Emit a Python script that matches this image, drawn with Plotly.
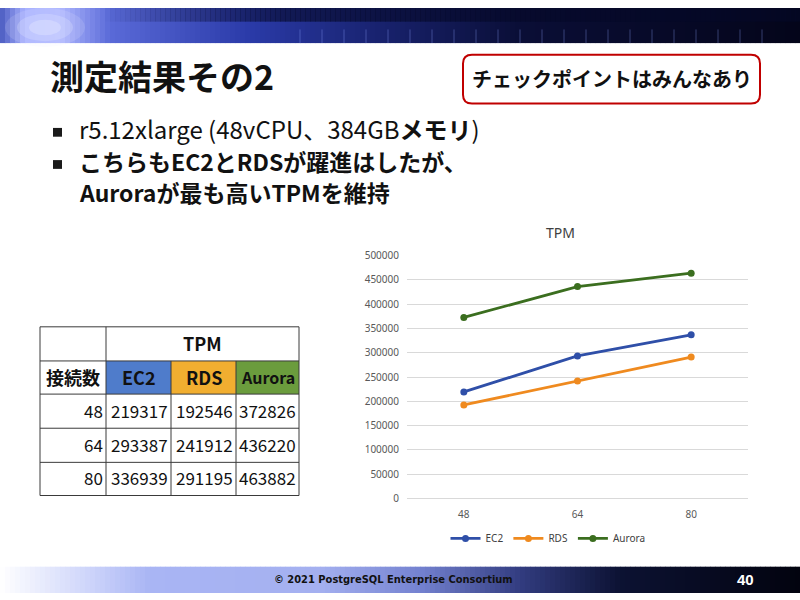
import plotly.graph_objects as go

# ---- data ----
connections = ["48", "64", "80"]
ec2 = [219317, 293387, 336939]
rds = [192546, 241912, 291195]
aurora = [372826, 436220, 463882]
series_names = ["EC2", "RDS", "Aurora"]
y_ticks = [0, 50000, 100000, 150000, 200000, 250000, 300000, 350000, 400000, 450000, 500000]

title_text = "測定結果その2"
callout_text = "チェックポイントはみんなあり"
bullet_lines = ["r5.12xlarge (48vCPU、384GB<b>メモリ</b>)",
                "<b>こちらもEC2とRDSが躍進はしたが、</b>",
                "<b>Auroraが最も高いTPMを維持</b>"]
footer_text = "© 2021 PostgreSQL Enterprise Consortium"
page_no = "40"

W, H = 800, 600
def X(px): return px / W
def Y(py): return 1 - py / H

def hex2rgb(h):
    h = h.lstrip("#")
    return tuple(int(h[i:i+2], 16) for i in (0, 2, 4))

def interp(stops, x):
    for (x0, c0), (x1, c1) in zip(stops, stops[1:]):
        if x0 <= x <= x1:
            t = 0 if x1 == x0 else (x - x0) / (x1 - x0)
            a, b = hex2rgb(c0), hex2rgb(c1)
            return "rgb(%d,%d,%d)" % tuple(round(a[i] + (b[i] - a[i]) * t) for i in range(3))
    return stops[-1][1]

CJK = "Noto Sans CJK JP"
fig = go.Figure()
colors = ["#2f4fa8", "#ef8a1f", "#3b6e1f"]
for name, vals, c in zip(series_names, [ec2, rds, aurora], colors):
    fig.add_trace(go.Scatter(x=connections, y=vals, name=name, mode="lines+markers",
                             line=dict(color=c, width=2.8), marker=dict(color=c, size=7)))

shapes = []
ann = []

def A(text, px, py, xa="center", ya="middle", **font):
    ann.append(dict(text=text, x=X(px), y=Y(py), xref="paper", yref="paper", xanchor=xa,
                    yanchor=ya, showarrow=False, font=font))

# header gradient
hstops = [(0, "#4a5ac0"), (25, "#a8b2ff"), (60, "#b0b8ff"), (110, "#5a6ad8"), (250, "#2a3aa8"),
          (380, "#18226e"), (520, "#0a0e36"), (800, "#04051a")]
step = 5
for i in range(0, 800, step):
    shapes.append(dict(type="rect", xref="paper", yref="paper", x0=X(i), x1=X(i + step + 0.5),
                       y0=Y(36), y1=Y(0), fillcolor=interp(hstops, i + step / 2), line=dict(width=0),
                       layer="below"))
for i in range(100, 800, step):
    shapes.append(dict(type="rect", xref="paper", yref="paper", x0=X(i), x1=X(i + step + 0.5),
                       y0=Y(14), y1=Y(0), fillcolor="#050828", opacity=min(0.6, (i - 100) / 300),
                       line=dict(width=0), layer="below"))
for rr, op in [(40, 0.15), (28, 0.25), (16, 0.35)]:
    shapes.append(dict(type="circle", xref="paper", yref="paper", x0=X(45 - rr), x1=X(45 + rr),
                       y0=Y(20 + rr * 0.5), y1=Y(20 - rr * 0.5), fillcolor="#e8ecff", opacity=op,
                       line=dict(width=0), layer="below"))
for xs in range(300, 770, 22):
    shapes.append(dict(type="line", xref="paper", yref="paper", x0=X(xs), x1=X(xs), y0=Y(36),
                       y1=Y(22), line=dict(color="#8fa4ff", width=1), opacity=0.35, layer="below"))

# footer gradient
fstops = [(0, "#ffffff"), (90, "#cdd4fa"), (150, "#a9b5f4"), (320, "#a4b0f0"), (420, "#7482d0"),
          (520, "#323c80"), (620, "#0c1233"), (800, "#02030e")]
for i in range(0, 800, step):
    shapes.append(dict(type="rect", xref="paper", yref="paper", x0=X(i), x1=X(i + step + 0.5),
                       y0=Y(600), y1=Y(573), fillcolor=interp(fstops, i + step / 2), line=dict(width=0),
                       layer="below"))

# callout box (rounded)
x0, x1, y0, y1, r = 463, 760, 48, 98, 9
rx, ry = r / W, r / H
path = (f"M {X(x0)+rx},{Y(y0)} L {X(x1)-rx},{Y(y0)} Q {X(x1)},{Y(y0)} {X(x1)},{Y(y0)-ry} "
        f"L {X(x1)},{Y(y1)+ry} Q {X(x1)},{Y(y1)} {X(x1)-rx},{Y(y1)} "
        f"L {X(x0)+rx},{Y(y1)} Q {X(x0)},{Y(y1)} {X(x0)},{Y(y1)+ry} "
        f"L {X(x0)},{Y(y0)-ry} Q {X(x0)},{Y(y0)} {X(x0)+rx},{Y(y0)} Z")
shapes.append(dict(type="path", xref="paper", yref="paper", path=path, fillcolor="white",
                   line=dict(color="#c00000", width=2)))
A("<b>" + callout_text + "</b>", 612, 72, family=CJK, size=20, color="#111")

# title
A("<b>" + title_text + "</b>", 48, 69, xa="left", family=CJK, size=34, color="#111")
# bullets
for (by, txt, bullet, sz) in [(124, bullet_lines[0], True, 24), (157, bullet_lines[1], True, 23),
                              (189, bullet_lines[2], False, 23)]:
    if bullet:
        shapes.append(dict(type="rect", xref="paper", yref="paper", x0=X(53), x1=X(62), y0=Y(by + 8),
                           y1=Y(by - 1), fillcolor="#1a1a1a", line=dict(width=0)))
    A(txt, 77, by, xa="left", family=CJK, size=sz, color="#111")

# table
cols = [40, 106, 171, 236, 299]
rows = [327, 362, 396, 431, 466, 500]
head_colors = ["#4f7ccb", "#f1ae30", "#6b9c3d"]
for j, c in enumerate(head_colors):
    shapes.append(dict(type="rect", xref="paper", yref="paper", x0=X(cols[j + 1]), x1=X(cols[j + 2]),
                       y0=Y(rows[2]), y1=Y(rows[1]), fillcolor=c, line=dict(width=0)))
lc = dict(color="#3a3a3a", width=1)
for ry_ in rows:
    shapes.append(dict(type="line", xref="paper", yref="paper", x0=X(cols[0]), x1=X(cols[-1]),
                       y0=Y(ry_), y1=Y(ry_), line=lc))
for k, cx in enumerate(cols):
    top = rows[0] if k in (0, 1, 4) else rows[1]
    shapes.append(dict(type="line", xref="paper", yref="paper", x0=X(cx), x1=X(cx),
                       y0=Y(top), y1=Y(rows[-1]), line=lc))

def cell_text(txt, cx, cy, anchor="center", bold=False, size=17):
    A(("<b>%s</b>" % txt) if bold else txt, cx, cy, xa=anchor, family=CJK, size=size, color="#111")

cell_text("TPM", (cols[1] + cols[4]) / 2, (rows[0] + rows[1]) / 2 - 1, bold=True, size=18)
cell_text("接続数", (cols[0] + cols[1]) / 2, (rows[1] + rows[2]) / 2 - 1, bold=True, size=18)
for j, n in enumerate(series_names):
    cell_text(n, (cols[j + 1] + cols[j + 2]) / 2, (rows[1] + rows[2]) / 2 - 1, bold=True,
              size=16 if len(n) > 4 else 18)
for i, conn in enumerate(connections):
    cy = (rows[i + 2] + rows[i + 3]) / 2 - 1
    cell_text(conn, cols[1] - 1, cy, anchor="right")
    for j, vals in enumerate([ec2, rds, aurora]):
        cell_text(str(vals[i]), cols[j + 2] - 1, cy, anchor="right")

# chart title
A("TPM", 560, 230, family="Noto Sans", size=14, color="#404040")
# footer texts
A("<b>" + footer_text + "</b>", 393, 586, family="DejaVu Sans Condensed, Liberation Sans", size=11, color="#111")
A("<b>" + page_no + "</b>", 745, 586, family="Liberation Sans", size=15, color="white")

fig.update_layout(
    width=W, height=H, autosize=False, margin=dict(l=0, r=0, t=0, b=0),
    paper_bgcolor="white", plot_bgcolor="rgba(0,0,0,0)",
    shapes=shapes, annotations=ann, showlegend=True,
    legend=dict(orientation="h", x=X(548), xanchor="center", y=Y(544), yanchor="middle",
                font=dict(family="Noto Sans", size=10, color="#404040"), itemwidth=30),
    xaxis=dict(domain=[X(407), X(748)], type="category", range=[-0.5, 2.5], showgrid=False,
               showline=True, linecolor="#d9d9d9", ticks="", ticklabelstandoff=7,
               tickfont=dict(family="Noto Sans", size=10, color="#595959"), anchor="y"),
    yaxis=dict(domain=[Y(503), Y(254)], range=[0, 500000], tickvals=y_ticks, tickformat="d",
               showgrid=True, gridcolor="#d9d9d9", zeroline=False, showline=False, ticks="",
               ticklabelstandoff=7,
               tickfont=dict(family="Noto Sans", size=10, color="#595959"), anchor="x"),
)
fig.write_html("out.html", config={"displayModeBar": False},
               post_script="document.body.style.margin='0';document.body.style.padding='0';")
